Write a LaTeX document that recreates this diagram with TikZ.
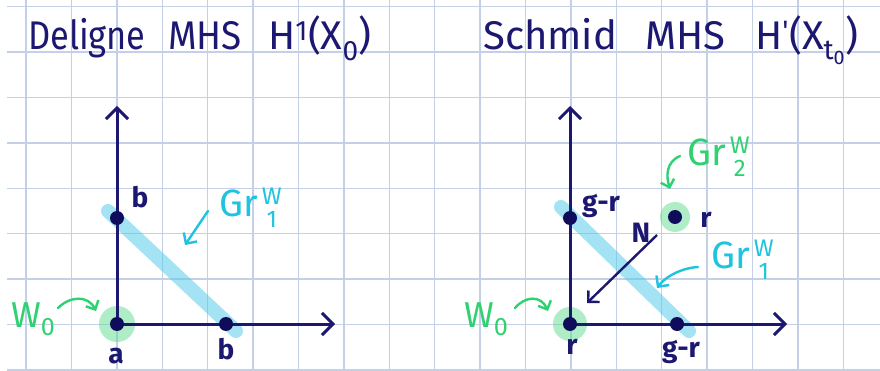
\documentclass[tikz,border=0pt]{standalone}
\usepackage{fontspec}
\setmainfont{Fira Sans}
\usetikzlibrary{arrows.meta}
\definecolor{navy}{HTML}{1C1770}
\definecolor{dotnavy}{HTML}{100C5C}
\definecolor{gtext}{HTML}{2FD173}
\definecolor{gfillc}{HTML}{5FDC8F}
\definecolor{ctext}{HTML}{1EC3DF}
\definecolor{cband}{HTML}{4FCBE8}
\definecolor{gridc}{HTML}{C3D0E7}
\tikzset{
  gridline/.style={draw=gridc, line width=1.4pt},
  axis/.style={draw=navy, line width=3pt, -{Straight Barb[length=11pt,width=22pt,line width=3pt]}},
  band/.style={draw=cband, draw opacity=.52, line width=14pt, line cap=round},
  dot/.style={circle, fill=dotnavy, inner sep=0pt, minimum size=14pt},
  halo/.style={circle, fill=gfillc, fill opacity=.5, inner sep=0pt},
  narrow/.style={draw=navy, line width=2.4pt, -{Straight Barb[length=8pt,width=16pt,line width=2.4pt]}},
  garrow/.style={draw=gtext, line width=2.4pt, line cap=round, -{Straight Barb[length=7pt,width=14pt,line width=2.4pt]}},
  carrow/.style={draw=ctext, line width=2.4pt, line cap=round, -{Straight Barb[length=8pt,width=16pt,line width=2.4pt]}},
  titlew/.style={anchor=base west, inner sep=0pt, text=navy, font=\fontsize{40}{44}\selectfont},
  lab/.style={anchor=base, inner sep=0pt, text=navy, font=\fontsize{28}{30}\selectfont\bfseries},
  grlab/.style={anchor=base west, inner sep=0pt, font=\fontsize{38}{40}\selectfont},
  wlab/.style={anchor=base west, inner sep=0pt, text=gtext, font=\fontsize{36}{38}\selectfont},
}
\newcommand{\grsup}[2]{Gr\kern4pt\raisebox{-11pt}{\fontsize{24}{24}\selectfont\shortstack{#1\\[4pt]#2}}}
\begin{document}
\begin{tikzpicture}[x=1pt,y=-1pt]
\useasboundingbox (0,0) rectangle (880,371);
\fill[white] (0,0) rectangle (880,371);
% grid
\foreach \k in {0,...,18} \draw[gridline] ({26+45.4*\k},0) -- ({26+45.4*\k},371);
\foreach \k in {0,...,8} \draw[gridline] (7,{6.7+45.4*\k}) -- (880,{6.7+45.4*\k});

% titles
\node[titlew] (t1a) at (28,50) {\scalebox{0.86}[1]{Deligne}};
\node[titlew] (t1b) at (168,50) {\scalebox{0.92}[1]{MHS}};
\node[titlew] (t1c) at (268,50) {H\textsuperscript{1}(X\textsubscript{0})};
\node[titlew] (t2a) at (483,50) {Schmid};
\node[titlew] (t2b) at (645,50) {MHS};
\node[titlew] (t2c) at (755,50) {H\textsuperscript{\textquotesingle}(X\textsubscript{t\textsubscript{0}})};

% ---------- left panel ----------
\coordinate (O1) at (117,324);
\coordinate (Y1) at (117,106);
\coordinate (X1) at (335,324);
\coordinate (B1s) at (108,211);
\coordinate (B1e) at (236,331);
\node[halo, minimum size=36pt] (h1) at (O1) {};
\draw[band] (B1s) -- (B1e);
\draw[axis] (O1) -- (Y1);
\draw[axis] (O1) -- (X1);
\node[dot] (d1o) at (O1) {};
\node[dot] (d1y) at (117,218) {};
\node[dot] (d1x) at (226,324) {};
\node[lab] (l1b) at (140,208) {b};
\node[lab] (l1a) at (116,363) {a};
\node[lab] (l1c) at (226,359) {b};
\node[grlab, text=ctext] (gr1) at (219,217) {\grsup{W}{1}};
\coordinate (c1s) at (208,211);
\coordinate (c1e) at (185,245);
\draw[carrow] (c1s) -- (c1e);
\node[wlab] (w1) at (11,327) {W\textsubscript{0}};
\coordinate (g1s) at (58,308);
\coordinate (g1e) at (96,311);
\draw[garrow] (g1s) .. controls (70,296) and (88,295) .. (g1e);

% ---------- right panel ----------
\coordinate (O2) at (570,324);
\coordinate (Y2) at (570,106);
\coordinate (X2) at (787,324);
\coordinate (B2s) at (561,207);
\coordinate (B2e) at (689,331);
\node[halo, minimum size=34pt] (h2) at (O2) {};
\node[halo, minimum size=30pt] (h3) at (675,217) {};
\draw[band] (B2s) -- (B2e);
\draw[axis] (O2) -- (Y2);
\draw[axis] (O2) -- (X2);
\node[dot] (d2o) at (O2) {};
\node[dot] (d2y) at (570,218) {};
\node[dot] (d2x) at (677,324) {};
\node[dot] (d2r) at (675,217) {};
\node[lab] (l2gr) at (601,212) {g-r};
\node[lab] (l2r) at (706,228) {r};
\node[lab] (l2o) at (572,354) {r};
\node[lab] (l2x) at (681,357) {g-r};
\coordinate (n2s) at (657,235);
\coordinate (n2e) at (587,303);
\draw[narrow] (n2s) -- (n2e);
\node[lab] (lN) at (641,243) {N};
\node[grlab, text=gtext] (gr2) at (687,166) {\grsup{W}{2}};
\coordinate (g2s) at (680,156);
\coordinate (g2e) at (670,189);
\draw[garrow] (g2s) .. controls (666,162) and (666,176) .. (g2e);
\node[grlab, text=ctext] (gr3) at (711,269) {\grsup{W}{1}};
\coordinate (c2s) at (698,267);
\coordinate (c2e) at (657,288);
\draw[carrow] (c2s) .. controls (682,268) and (666,276) .. (c2e);
\node[wlab] (w2) at (464,327) {W\textsubscript{0}};
\coordinate (g3s) at (515,308);
\coordinate (g3e) at (548,311);
\draw[garrow] (g3s) .. controls (525,296) and (541,295) .. (g3e);
\end{tikzpicture}
\end{document}
